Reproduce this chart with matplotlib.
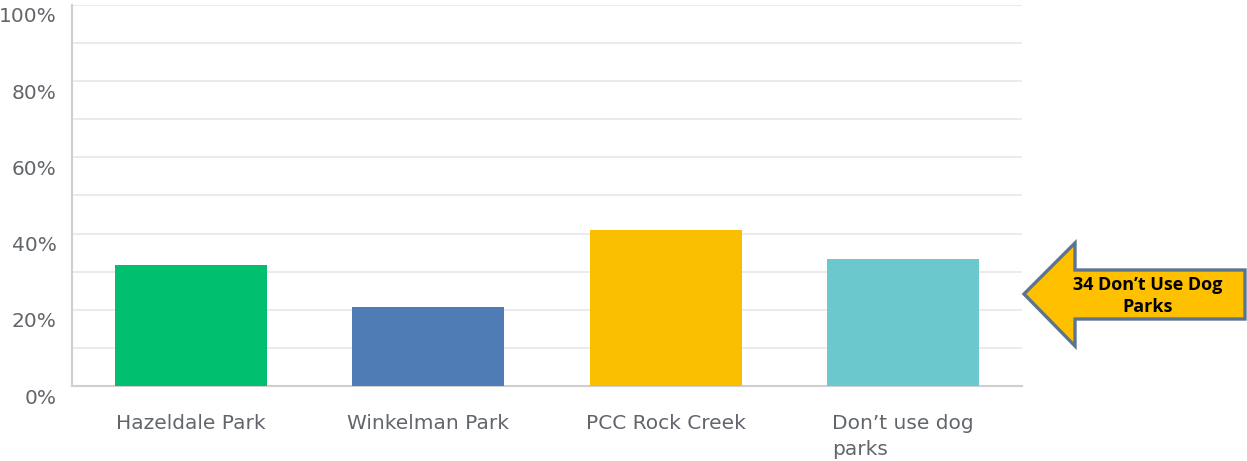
import matplotlib.pyplot as plt
import matplotlib.transforms as mtransforms
from matplotlib.patches import Polygon

categories = ["Hazeldale Park", "Winkelman Park", "PCC Rock Creek", "Don\u2019t use dog\nparks"]
values = [31.8, 20.7, 40.9, 33.4]
colors = ["#00BF6F", "#507CB6", "#F9BE00", "#6BC8CD"]
y_ticks = [0, 20, 40, 60, 80, 100]
y_labels = ["0%", "20%", "40%", "60%", "80%", "100%"]
note = "34 Don\u2019t Use Dog\nParks"

W, H = 1247, 461
fig = plt.figure(figsize=(W / 100, H / 100), dpi=100)
ax = fig.add_axes([72 / W, 1 - 386 / H, 950 / W, 381 / H])

x = range(len(categories))
ax.bar(x, values, width=0.64, color=colors, zorder=3)

ax.set_xlim(-0.5, len(categories) - 0.5)
ax.set_ylim(0, 100)
ax.set_yticks(y_ticks)
ax.set_yticklabels(y_labels)
ax.set_yticks(range(10, 100, 20), minor=True)
ax.grid(axis="y", which="both", color="#e8e8e8", linewidth=1.2, zorder=0)
ax.set_xticks(list(x))
ax.set_xticklabels(categories, multialignment="left", linespacing=1.45)

ax.tick_params(axis="both", which="both", length=0)
ax.tick_params(axis="y", labelsize=14.5, labelcolor="#62666b", pad=11)
ax.tick_params(axis="x", labelsize=14.5, labelcolor="#62666b", pad=20)

# y labels sit a little below their gridlines
offset = mtransforms.ScaledTranslation(0, -10 / 100, fig.dpi_scale_trans)
for lab in ax.get_yticklabels():
    lab.set_transform(lab.get_transform() + offset)

for s in ["top", "right"]:
    ax.spines[s].set_visible(False)
for s in ["left", "bottom"]:
    ax.spines[s].set_color("#cfcfcf")
    ax.spines[s].set_linewidth(1.5)

# callout arrow
pts = [(1024, 294), (1075, 243), (1075, 270), (1245, 270),
       (1245, 319), (1075, 319), (1075, 346)]
pts = [(px / W, 1 - py / H) for px, py in pts]
fig.patches.append(Polygon(pts, closed=True, transform=fig.transFigure,
                           facecolor="#FFC000", edgecolor="#5B7590", linewidth=2.4))
fig.text(1148 / W, 1 - 296 / H, note, ha="center", va="center",
         fontsize=13, fontweight="bold", family="Open Sans", linespacing=1.3)

fig.savefig("out.png", dpi=100)
